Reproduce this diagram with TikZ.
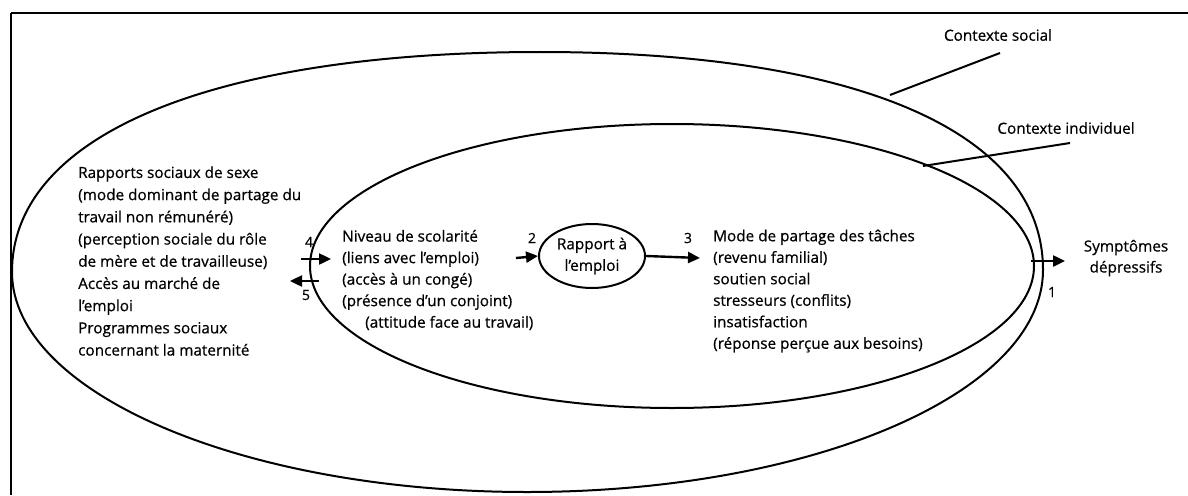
\documentclass[tikz,border=0pt]{standalone}
\usepackage{fontspec}
\setmainfont[FakeBold=0.6,AutoFakeBold=0.6]{Open Sans}
\usetikzlibrary{arrows.meta,shapes.geometric}
\begin{document}
\begin{tikzpicture}[x=1pt,y=-1pt,
  line/.style={line width=2pt},
  blk/.style={inner sep=0pt, align=left, anchor=west, font=\fontsize{15.3}{21.5}\selectfont},
  lbl/.style={inner sep=0pt, font=\fontsize{15.3}{21}\selectfont},
  num/.style={inner sep=0pt, font=\fontsize{14}{16}\selectfont},
  arr/.style={line width=2.4pt, -{Triangle[length=12pt,width=11pt]}},
  lead/.style={line width=2pt}]
\useasboundingbox (0,0) rectangle (1188,495);

% open frame: top and left edges
\draw[line] (11,13) -- (1188,13);
\draw[line] (11,13) -- (11,495);

% social context: full upper half, elliptic lower half
\draw[line] (12,272) .. controls (12,135) and (212,52) .. (540,52)
  .. controls (858,52) and (1043,132) .. (1043,270)
  .. controls (1043,393) and (812,492) .. (527,492)
  .. controls (243,492) and (12,393) .. (12,272) -- cycle;

% individual context
\draw[line] (672,266) ellipse [x radius=362, y radius=142];

% central ellipse
\node[draw, line width=2pt, ellipse, minimum width=106pt, minimum height=64pt, inner sep=0pt,
      align=center, font=\fontsize{15.3}{21.5}\selectfont] (rap) at (592,256) {Rapport à\\l’emploi};

% text blocks
\node[blk, font=\fontsize{15.3}{22.2}\selectfont] (soc) at (78,261) {Rapports sociaux de sexe\\(mode dominant de partage du\\travail non rémunéré)\\(perception sociale du rôle\\de mère et de travailleuse)\\Accès au marché de\\l’emploi\\Programmes sociaux\\concernant la maternité};
\node[blk] (ind) at (342,280) {Niveau de scolarité\\(liens avec l’emploi)\\(accès à un congé)\\(présence d’un conjoint)\\\hspace*{23pt}(attitude face au travail)};
\node[blk] (fam) at (713,291) {Mode de partage des tâches\\(revenu familial)\\soutien social\\stresseurs (conflits)\\insatisfaction\\(réponse perçue aux besoins)};
\node[lbl, align=center] (sym) at (1126,258) {Symptômes\\dépressifs};

% context labels and their leaders
\node[lbl] (cs) at (998,35) {Contexte social};
\node[lbl] (ci) at (1066,128) {Contexte individuel};
\coordinate (csA) at (890,95);
\coordinate (csB) at (1000,53);
\coordinate (ciA) at (923,166);
\coordinate (ciB) at (1070,143);
\draw[lead] (csA) -- (csB);
\draw[lead] (ciA) -- (ciB);

% arrows between levels
\coordinate (a2) at (516,258);
\coordinate (a3) at (700,258);
\coordinate (a4s) at (301,259);
\coordinate (a4e) at (331,259);
\coordinate (a5s) at (319,281);
\coordinate (a5e) at (290,281);
\coordinate (a1s) at (1031,261);
\coordinate (a1e) at (1065,261);
\draw[arr] (a2) -- (rap.west);
\draw[arr] (rap.east) -- (a3);
\draw[arr] (a4s) -- (a4e);
\draw[arr] (a5s) -- (a5e);
\draw[arr] (a1s) -- (a1e);

% arrow numbers
\node[num] (n1) at (1052,292) {1};
\node[num] (n2) at (532,238) {2};
\node[num] (n3) at (688,238) {3};
\node[num] (n4) at (309,242) {4};
\node[num] (n5) at (306,295) {5};
\end{tikzpicture}
\end{document}
